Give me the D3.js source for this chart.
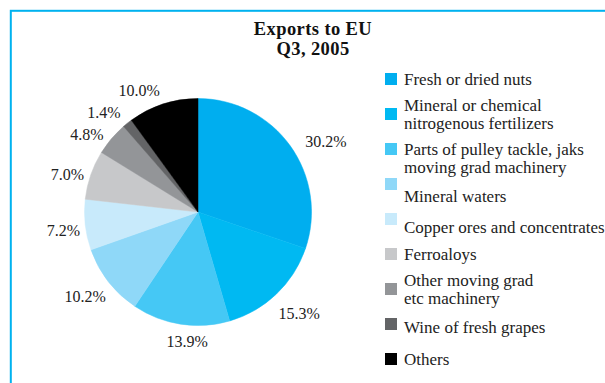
<!DOCTYPE html>
<html>
<head>
<meta charset="utf-8">
<script src="https://cdn.jsdelivr.net/npm/d3@7"></script>
<style>
  html, body { margin: 0; padding: 0; background: #fff; }
  svg { display: block; font-family: "Liberation Serif", "DejaVu Serif", serif; }
</style>
</head>
<body>
<svg id="chart" width="605" height="383"></svg>
<script>
// Export categories and their shares (%)
const categories = [
  "Fresh or dried nuts",
  "Mineral or chemical\nnitrogenous fertilizers",
  "Parts of pulley tackle, jaks\nmoving grad machinery",
  "Mineral waters",
  "Copper ores and concentrates",
  "Ferroaloys",
  "Other moving grad\netc machinery",
  "Wine of fresh grapes",
  "Others"
];
const shares = [30.2, 15.3, 13.9, 10.2, 7.2, 7.0, 4.8, 1.4, 10.0];
const colors = ["#00aeef", "#00b9f2", "#45c8f5", "#8fd8f8", "#c8eafb",
                "#c7c8ca", "#939598", "#636466", "#000000"];
const titleLines = ["Exports to EU", "Q3, 2005"];

// Layout
const W = 605, H = 383;
const cx = 198, cy = 212, R = 113.5, labelR = 139;
// first-line baseline of each legend entry, relative to its swatch top
const legendTextOffset = [12, 3, 12, 24, 20, 12, 3, 15, 12];
// per-label offsets from the label-ring position
const labelNudge = [[15, 10], [5, 1], [10.5, -8], [-3, -0.5], [3.4, 2.3],
                    [0.7, 8.2], [-5, 12.6], [-7.5, 8.8], [-16, 10.2]];

const svg = d3.select("#chart");

// Frame
svg.append("rect")
  .attr("x", 10.8).attr("y", 10.8)
  .attr("width", 800).attr("height", 600)
  .attr("fill", "none")
  .attr("stroke", "#00b2ef")
  .attr("stroke-width", 2);

// Title
svg.append("text")
  .attr("text-anchor", "middle")
  .attr("font-weight", "bold")
  .attr("font-size", 18.5)
  .attr("letter-spacing", 0.4)
  .attr("fill", "#111")
  .selectAll("tspan")
  .data(titleLines)
  .join("tspan")
  .attr("x", 313)
  .attr("y", (d, i) => 35 + i * 20)
  .text(d => d);

// Pie
const data = categories.map((c, i) => ({ name: c, value: shares[i], color: colors[i], idx: i }));
const pie = d3.pie().value(d => d.value).sort(null);
const arcs = pie(data);
const arc = d3.arc().innerRadius(0).outerRadius(R);
const labelArc = d3.arc().innerRadius(labelR).outerRadius(labelR);

const g = svg.append("g").attr("transform", `translate(${cx},${cy})`);
g.selectAll("path")
  .data(arcs)
  .join("path")
  .attr("d", arc)
  .attr("fill", d => d.data.color)
  .attr("stroke", d => d.data.color)
  .attr("stroke-width", 0.5);

g.selectAll("text.lbl")
  .data(arcs)
  .join("text")
  .attr("class", "lbl")
  .attr("transform", d => {
    const [x, y] = labelArc.centroid(d);
    const n = labelNudge[d.data.idx];
    return `translate(${x + n[0]},${y + n[1]})`;
  })
  .attr("text-anchor", "middle")
  .attr("dy", "0.35em")
  .attr("font-size", 16)
  .attr("fill", "#222")
  .text(d => d.data.value.toFixed(1) + "%");

// Legend
const ly = d3.scaleBand()
  .domain(d3.range(categories.length))
  .range([73, 73 + 35 * categories.length]);

const leg = svg.append("g");
const items = leg.selectAll("g")
  .data(data)
  .join("g")
  .attr("transform", d => `translate(385,${ly(d.idx)})`);

items.append("rect")
  .attr("width", 12).attr("height", 12)
  .attr("fill", d => d.color);

items.append("text")
  .attr("font-size", 17)
  .attr("fill", "#222")
  .selectAll("tspan")
  .data(d => d.name.split("\n").map(t => ({ t, off: legendTextOffset[d.idx] })))
  .join("tspan")
  .attr("x", 19)
  .attr("y", (d, i) => d.off + i * 18)
  .text(d => d.t);
</script>
</body>
</html>
